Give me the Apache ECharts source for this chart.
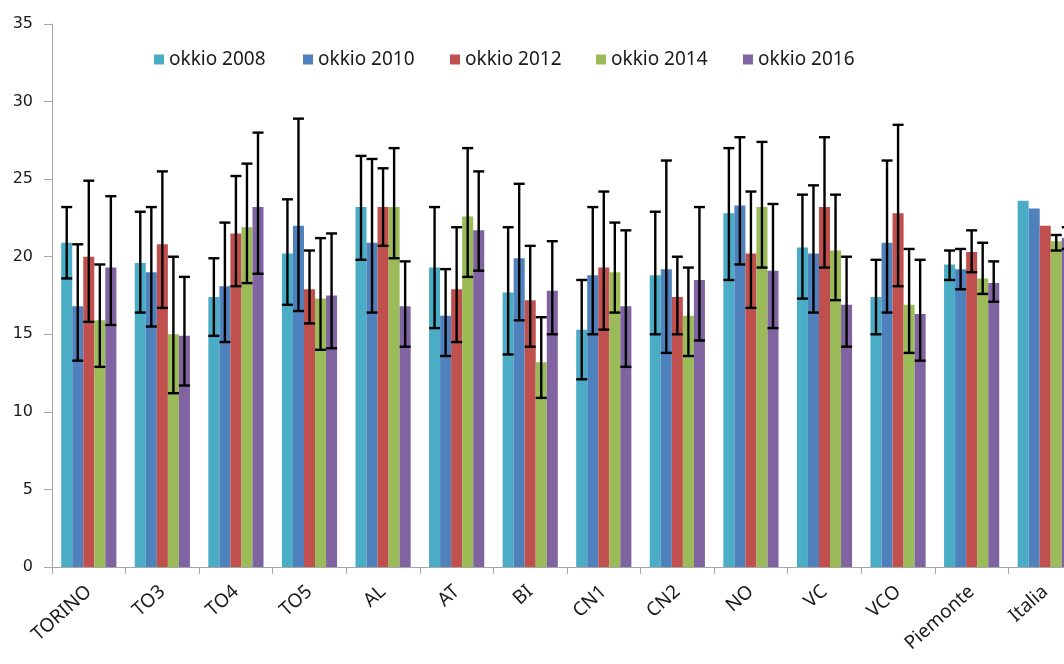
<!DOCTYPE html>
<html>
<head>
<meta charset="utf-8">
<script src="https://cdn.jsdelivr.net/npm/echarts@6/dist/echarts.min.js"></script>
<style>
html,body{margin:0;padding:0;background:#fff;overflow:hidden;}
#chart{width:1064px;height:664px;}
</style>
</head>
<body>
<div id="chart"></div>
<script>
const categories = ['TORINO','TO3','TO4','TO5','AL','AT','BI','CN1','CN2','NO','VC','VCO','Piemonte','Italia'];
const seriesNames = ['okkio 2008','okkio 2010','okkio 2012','okkio 2014','okkio 2016'];
const colors = ['#4BACC6','#4F81BD','#C0504D','#9BBB59','#8064A2'];

const v2008  = [20.9, 19.6, 17.4, 20.2, 23.2, 19.3, 17.7, 15.3, 18.8, 22.8, 20.6, 17.4, 19.5, 23.6];
const lo2008 = [18.6, 16.4, 14.9, 16.9, 19.8, 15.4, 13.7, 12.1, 15.0, 18.5, 17.3, 15.0, 18.5, null];
const hi2008 = [23.2, 22.9, 19.9, 23.7, 26.5, 23.2, 21.9, 18.5, 22.9, 27.0, 24.0, 19.8, 20.4, null];

const v2010  = [16.8, 19.0, 18.1, 22.0, 20.9, 16.2, 19.9, 18.8, 19.2, 23.3, 20.2, 20.9, 19.2, 23.1];
const lo2010 = [13.3, 15.5, 14.5, 16.5, 16.4, 13.6, 15.9, 15.0, 13.8, 19.5, 16.4, 16.4, 17.9, null];
const hi2010 = [20.8, 23.2, 22.2, 28.9, 26.3, 19.2, 24.7, 23.2, 26.2, 27.7, 24.6, 26.2, 20.5, null];

const v2012  = [20.0, 20.8, 21.5, 17.9, 23.2, 17.9, 17.2, 19.3, 17.4, 20.2, 23.2, 22.8, 20.3, 22.0];
const lo2012 = [15.8, 16.7, 18.1, 15.7, 20.7, 14.5, 14.2, 15.3, 15.0, 16.7, 19.3, 18.1, 19.0, null];
const hi2012 = [24.9, 25.5, 25.2, 20.4, 25.7, 21.9, 20.7, 24.2, 20.0, 24.2, 27.7, 28.5, 21.7, null];

const v2014  = [15.9, 15.0, 21.9, 17.3, 23.2, 22.6, 13.2, 19.0, 16.2, 23.2, 20.4, 16.9, 18.6, 21.0];
const lo2014 = [12.9, 11.2, 18.3, 14.0, 19.9, 18.7, 10.9, 16.4, 13.6, 19.3, 17.2, 13.8, 17.6, 20.4];
const hi2014 = [19.5, 20.0, 26.0, 21.2, 27.0, 27.0, 16.1, 22.2, 19.3, 27.4, 24.0, 20.5, 20.9, 21.4];

const v2016  = [19.3, 14.9, 23.2, 17.5, 16.8, 21.7, 17.8, 16.8, 18.5, 19.1, 16.9, 16.3, 18.3, 21.2];
const lo2016 = [15.6, 11.7, 18.9, 14.1, 14.2, 19.1, 15.0, 12.9, 14.6, 15.4, 14.2, 13.3, 17.1, 20.5];
const hi2016 = [23.9, 18.7, 28.0, 21.5, 19.7, 25.5, 21.0, 21.7, 23.2, 23.4, 20.0, 19.8, 19.7, 21.9];

const yTicks = [0, 5, 10, 15, 20, 25, 30, 35];

const values = [v2008, v2010, v2012, v2014, v2016];
const lows = [lo2008, lo2010, lo2012, lo2014, lo2016];
const highs = [hi2008, hi2010, hi2012, hi2014, hi2016];

const GAP = 0.25;
const N = 5;

function errorSeries(s) {
  const data = [];
  categories.forEach((c, i) => {
    if (lows[s][i] != null && highs[s][i] != null) data.push([i, lows[s][i], highs[s][i]]);
  });
  return {
    type: 'custom',
    name: seriesNames[s] + ' err',
    z: 10,
    silent: true,
    clip: false,
    renderItem: function (params, api) {
      const ci = api.value(0);
      const band = api.size([1, 0])[0];
      const bw = band * (1 - GAP) / N;
      const x = api.coord([ci, 0])[0] + (s - (N - 1) / 2) * bw;
      const yl = api.coord([ci, api.value(1)])[1];
      const yh = api.coord([ci, api.value(2)])[1];
      const cap = 5.5;
      const st = { stroke: '#000', lineWidth: 2.4 };
      return {
        type: 'group',
        children: [
          { type: 'line', shape: { x1: x, y1: yl, x2: x, y2: yh }, style: st },
          { type: 'line', shape: { x1: x - cap, y1: yh, x2: x + cap, y2: yh }, style: st },
          { type: 'line', shape: { x1: x - cap, y1: yl, x2: x + cap, y2: yl }, style: st }
        ]
      };
    },
    data: data,
    encode: { x: 0, y: [1, 2] }
  };
}

const barSeries = seriesNames.map((n, s) => ({
  type: 'bar',
  name: n,
  data: values[s],
  barGap: '0%',
  barCategoryGap: (GAP * 100) + '%',
  itemStyle: { color: colors[s] },
  emphasis: { disabled: true }
}));

const legendLeft = [149, 298, 445, 591, 738];
const legends = seriesNames.map((n, s) => ({
  data: [n],
  left: legendLeft[s],
  top: 45,
  icon: 'rect',
  itemWidth: 10,
  itemHeight: 10,
  itemGap: 6,
  selectedMode: false,
  textStyle: { fontFamily: 'Noto Sans', fontSize: 19, color: '#1a1a1a', padding: [0, 0, 0, 0] }
}));

const chart = echarts.init(document.getElementById('chart'), null, { renderer: 'canvas' });
chart.setOption({
  animation: false,
  color: colors,
  legend: legends,
  grid: { left: 52, top: 24, height: 543, width: 1030, containLabel: false, outerBoundsMode: 'none' },
  xAxis: {
    type: 'category',
    data: categories,
    axisLine: { lineStyle: { color: '#a6a6a6', width: 1 } },
    axisTick: { show: true, length: 7, lineStyle: { color: '#a6a6a6' } },
    axisLabel: {
      rotate: 42,
      margin: 22,
      interval: 0,
      fontFamily: 'Noto Sans',
      fontSize: 19,
      color: '#1a1a1a'
    }
  },
  yAxis: {
    type: 'value',
    min: 0,
    max: 35,
    interval: 5,
    axisLine: { show: true, lineStyle: { color: '#a6a6a6', width: 1 } },
    axisTick: { show: true, length: 8, lineStyle: { color: '#a6a6a6' } },
    splitLine: { show: false },
    axisLabel: {
      margin: 19,
      fontFamily: 'DejaVu Sans',
      fontSize: 16,
      color: '#1a1a1a',
      formatter: v => yTicks.includes(v) ? String(v) : ''
    }
  },
  series: barSeries.concat(seriesNames.map((n, s) => errorSeries(s)))
});
</script>
</body>
</html>
